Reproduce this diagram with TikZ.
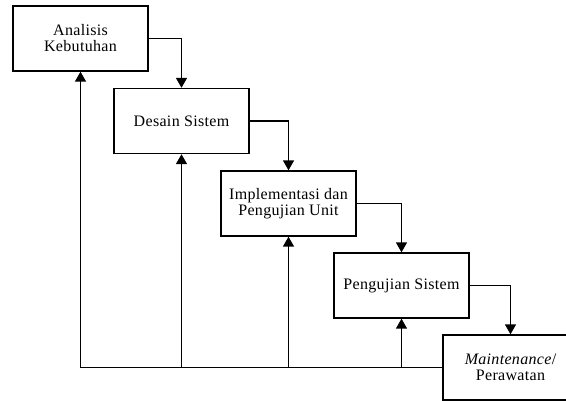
\documentclass[tikz,border=0pt]{standalone}
\usepackage{fontspec}
\setmainfont{Liberation Serif}[LetterSpace=2]
\usetikzlibrary{arrows.meta}
\begin{document}
\begin{tikzpicture}[x=1pt,y=-1pt,
  stage/.style={draw, line width=1.4pt, minimum width=135pt, minimum height=65pt,
    align=center, inner sep=2pt, font=\fontsize{16}{16}\selectfont},
  flow/.style={line width=1.6pt, -{Triangle[length=10pt,width=11pt]}},
  back/.style={line width=1.6pt, -{Triangle[length=10pt,width=11pt]}}]
\useasboundingbox (0,0) rectangle (566,400);
\clip (0,0) rectangle (566,400);
\node[stage] (A) at (80.5,38.5) {Analisis\\Kebutuhan};
\node[stage] (B) at (181.5,121) {Desain Sistem};
\node[stage] (C) at (288.5,203.5) {Implementasi dan\\Pengujian Unit};
\node[stage] (D) at (401.5,285.5) {Pengujian Sistem};
\node[stage] (E) at (510.5,367.5) {\textit{Maintenance}/\\Perawatan};
\draw[flow] (A.east) -| (B.north);
\draw[flow] (B.east) -| (C.north);
\draw[flow] (C.east) -| (D.north);
\draw[flow] (D.east) -| (E.north);
\draw[back] (E.west) -| (A.south);
\coordinate (bB) at (B.south |- E.west);
\coordinate (bC) at (C.south |- E.west);
\coordinate (bD) at (D.south |- E.west);
\draw[back] (bB) -- (B.south);
\draw[back] (bC) -- (C.south);
\draw[back] (bD) -- (D.south);
\end{tikzpicture}
\end{document}
